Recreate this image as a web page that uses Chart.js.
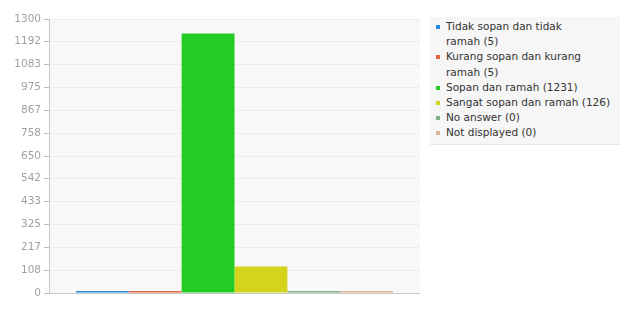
<!DOCTYPE html>
<html>
<head>
<meta charset="utf-8">
<script src="https://cdn.jsdelivr.net/npm/chart.js@4"></script>
<style>
body{margin:0;background:#fff;font-family:"DejaVu Sans",sans-serif;}
#wrap{position:relative;width:620px;height:334px;}
#legend{position:absolute;left:430px;top:17px;width:190px;height:128px;background:#f6f6f6;
  border-bottom:1px solid #e6e6e6;font-size:10.5px;color:#333;line-height:15.2px;padding:2px 0 0 0;box-sizing:border-box;white-space:nowrap;}
#legend div{position:relative;padding-left:16px;}
#legend span{position:absolute;left:6px;top:6px;width:4px;height:4px;}
</style>
</head>
<body>
<div id="wrap">
<canvas id="chart" width="620" height="334"></canvas>
<div id="legend"></div>
</div>
<script>
// jawaban & jumlah
const labelJawaban = [
    "Tidak sopan dan tidak ramah",
    "Kurang sopan dan kurang ramah",
    "Sopan dan ramah",
    "Sangat sopan dan ramah",
    "No answer",
    "Not displayed"
];
const jumlah = [5, 5, 1231, 126, 0, 0];
const warna = ["#2a8ae0", "#e8643c", "#22cc22", "#d4d41c", "#7fb08a", "#dcb494"];
const yMax = 1300;
const yTicks = [0, 108, 217, 325, 433, 542, 650, 758, 867, 975, 1083, 1192, 1300];

// legend html (dua label pertama dipatah sebelum kata terakhir)
const legend = document.getElementById("legend");
labelJawaban.forEach((l, i) => {
    const teks = i < 2 ? l.replace(/ (\S+)$/, "<br>$1") : l;
    legend.innerHTML += `<div><span style="background:${warna[i]}"></span>${teks} (${jumlah[i]})</div>`;
});

const bgPlugin = {
    id: "bgArea",
    beforeDraw(chart){
        const {ctx, chartArea:a} = chart;
        ctx.save();
        ctx.fillStyle = "#f8f8f8";
        ctx.fillRect(a.left, a.top, a.right - a.left, a.bottom - a.top);
        ctx.restore();
    },
    afterDraw(chart){
        const {ctx, chartArea:a} = chart;
        ctx.save();
        ctx.strokeStyle = "#c8c8c8";
        ctx.lineWidth = 1;
        ctx.beginPath();
        ctx.moveTo(a.left, a.bottom + 0.5);
        ctx.lineTo(a.right, a.bottom + 0.5);
        ctx.stroke();
        ctx.restore();
    }
};

new Chart(document.getElementById("chart"), {
    type: "bar",
    data: {
        labels: [""],
        datasets: labelJawaban.map((l, i) => ({
            label: l,
            data: [jumlah[i]],
            backgroundColor: warna[i],
            borderWidth: 0,
            minBarLength: 2,
            categoryPercentage: 0.855,
            barPercentage: 1
        }))
    },
    options: {
        responsive: false,
        animation: false,
        layout: {padding: {left: 0, right: 200, top: 19, bottom: 41}},
        plugins: {legend: {display: false}, tooltip: {enabled: false}},
        scales: {
            x: {display: false},
            y: {
                min: 0,
                max: yMax,
                afterBuildTicks(scale){
                    scale.ticks = yTicks.map(v => ({value: v}));
                },
                afterFit(scale){ scale.width = 49; },
                ticks: {
                    color: "#a0a0a0",
                    font: {family: "DejaVu Sans", size: 10.5},
                    padding: 3,
                    callback: v => String(v)
                },
                grid: {color: "#ececec", tickColor: "#bdbdbd", tickLength: 5},
                border: {color: "#c8c8c8"}
            }
        }
    },
    plugins: [bgPlugin]
});
</script>
</body>
</html>
